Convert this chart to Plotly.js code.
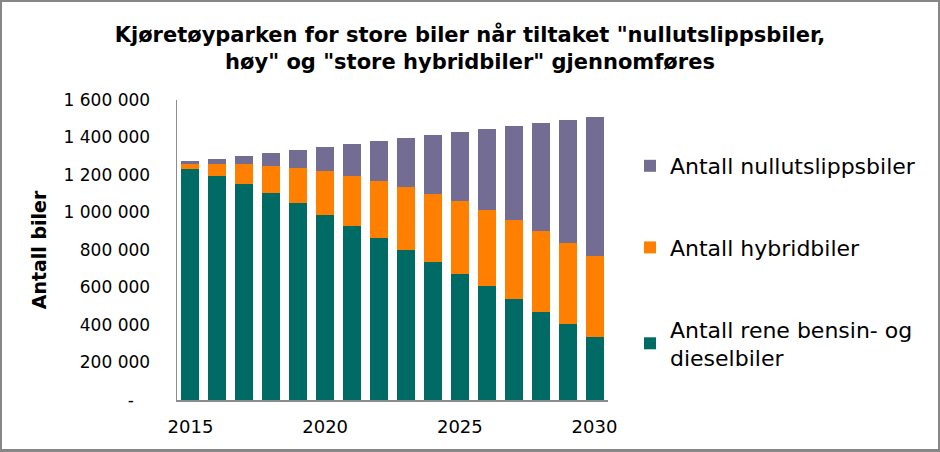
<!DOCTYPE html>
<html>
<head>
<meta charset="utf-8">
<script src="https://cdn.plot.ly/plotly-3.0.1.min.js"></script>
<style>
  html, body { margin: 0; padding: 0; background: #fff; }
  #wrap { position: relative; width: 940px; height: 452px; }
  #chart { width: 940px; height: 452px; }
  #frame { position: absolute; left: 0; top: 0; width: 940px; height: 452px; box-sizing: border-box; border: 2px solid #878787; border-bottom-width: 3px; pointer-events: none; }
</style>
</head>
<body>
<div id="wrap"><div id="chart"></div><div id="frame"></div></div>
<script>
const years = [2015,2016,2017,2018,2019,2020,2021,2022,2023,2024,2025,2026,2027,2028,2029,2030];
const fossil = [1232000,1195000,1152000,1104000,1051000,987000,928000,864000,800000,736000,672000,608000,539000,469000,405000,336000];
const hybrid = [28000,65000,108000,144000,187000,235000,267000,304000,336000,363000,389000,405000,421000,432000,432000,432000];
const zeroEmission = [15000,25000,41000,69000,96000,128000,171000,213000,261000,315000,368000,432000,501000,576000,656000,741000];
const seriesNames = ["Antall rene bensin- og<br>dieselbiler", "Antall hybridbiler", "Antall nullutslippsbiler"];
const yTickVals = [0,200000,400000,600000,800000,1000000,1200000,1400000,1600000];
const yTickText = ["-\u00a0\u00a0\u00a0","200 000","400 000","600 000","800 000","1 000 000","1 200 000","1 400 000","1 600 000"];
const xTickVals = [2015,2020,2025,2030];

const colors = ["#006A64", "#FF8000", "#736C93"];
const font = "Tahoma, 'DejaVu Sans', 'Open Sans', sans-serif";
const ranks = [3, 2, 1];

const traces = [fossil, hybrid, zeroEmission].map((vals, i) => ({
  type: "bar",
  x: years,
  y: vals,
  name: seriesNames[i],
  legendgroup: "g" + i,
  legendrank: ranks[i],
  marker: { color: colors[i], line: { width: 0 } },
  hoverinfo: "x+y+name"
}));

const layout = {
  width: 940, height: 452,
  margin: { l: 177, r: 332, t: 100, b: 52 },
  paper_bgcolor: "#fff", plot_bgcolor: "#fff",
  barmode: "stack",
  bargap: 0.333,
  font: { family: font, color: "#000" },
  title: {
    text: "<b>Kjøretøyparken for store biler når tiltaket \"nullutslippsbiler,<br>høy\" og \"store hybridbiler\" gjennomføres</b>",
    font: { family: font, size: 21, color: "#000" },
    x: 0.5, xanchor: "center", xref: "container",
    y: 1 - 42/452, yanchor: "top", yref: "container"
  },
  xaxis: {
    range: [2014.5, 2030.5],
    tickvals: xTickVals,
    ticktext: xTickVals.map(String),
    showgrid: false, zeroline: false,
    showline: true, linecolor: "#8C8C8C", linewidth: 1.5,
    ticks: "", tickfont: { size: 18, family: font },
    ticklabelstandoff: 10,
    fixedrange: true
  },
  yaxis: {
    range: [0, 1600000],
    tickvals: yTickVals,
    ticktext: yTickText,
    showgrid: false, zeroline: false,
    showline: true, linecolor: "#8C8C8C", linewidth: 1.5,
    ticks: "", tickfont: { size: 17, family: font },
    ticklabelstandoff: 22,
    title: { text: "<b>Antall biler</b>", font: { size: 19, family: font }, standoff: 12 },
    fixedrange: true
  },
  showlegend: true,
  legend: {
    traceorder: "grouped",
    tracegroupgap: 50,
    xref: "container", yref: "container",
    x: 630/940, xanchor: "left",
    y: 1 - 145/452, yanchor: "top",
    maxheight: 300,
    font: { size: 22, family: font, color: "#000" },
    itemwidth: 30,
    bgcolor: "rgba(0,0,0,0)"
  }
};

Plotly.newPlot("chart", traces, layout, { displayModeBar: false, staticPlot: true });
</script>
</body>
</html>
